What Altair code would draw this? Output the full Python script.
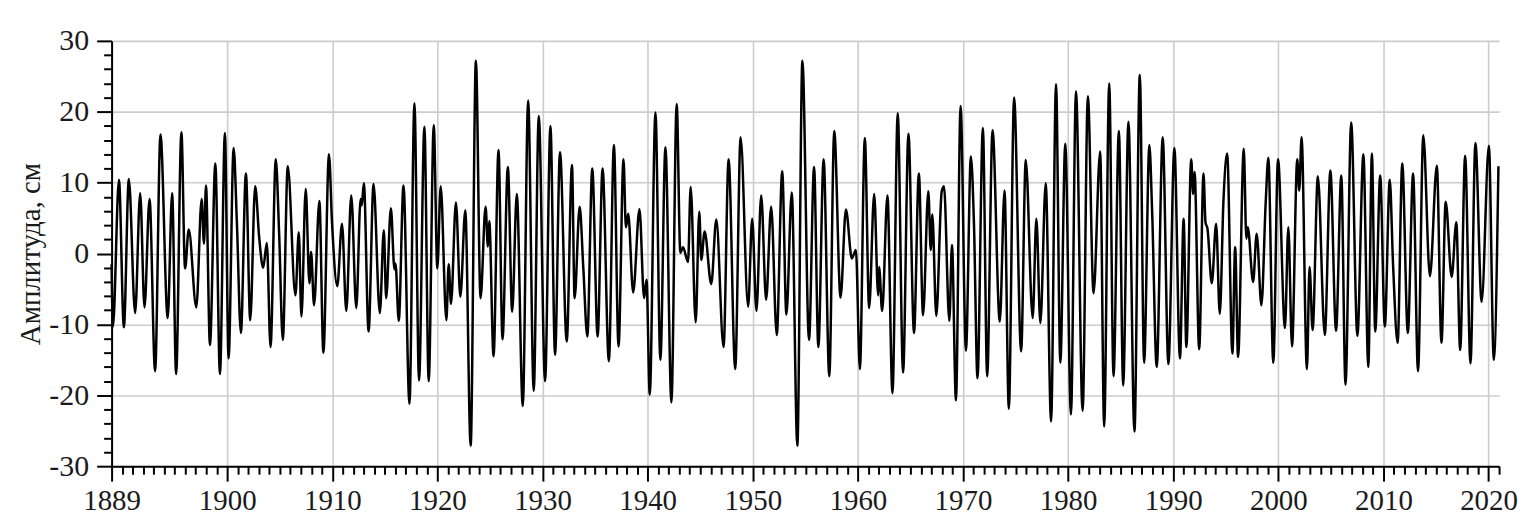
import altair as alt
import pandas as pd

years = [
    1889.0, 1889.13, 1889.70, 1890.17, 1890.64, 1891.24, 1891.72, 1892.13, 1892.61, 1893.14,
    1893.65, 1894.34, 1894.76, 1895.14, 1895.64, 1895.99, 1896.34, 1897.06, 1897.57, 1897.79,
    1897.98, 1898.36, 1898.87, 1899.31, 1899.78, 1900.13, 1900.61, 1900.92, 1901.30, 1901.78,
    1902.19, 1902.66, 1903.04, 1903.42, 1903.77, 1904.12, 1904.62, 1904.94, 1905.29, 1905.76,
    1906.49, 1906.81, 1907.06, 1907.47, 1907.82, 1907.98, 1908.26, 1908.77, 1909.15, 1909.68,
    1909.97, 1910.47, 1910.92, 1911.33, 1911.80, 1912.28, 1912.69, 1912.80, 1913.00, 1913.45,
    1913.92, 1914.52, 1914.90, 1915.12, 1915.57, 1915.91, 1916.01, 1916.32, 1916.77, 1917.34,
    1917.81, 1918.25, 1918.76, 1919.17, 1919.65, 1919.99, 1920.31, 1920.85, 1921.07, 1921.29,
    1921.76, 1922.18, 1922.65, 1923.16, 1923.66, 1924.10, 1924.58, 1924.80, 1924.93, 1925.34,
    1925.81, 1926.19, 1926.70, 1927.11, 1927.55, 1928.12, 1928.63, 1929.16, 1929.64, 1930.24,
    1930.75, 1931.19, 1931.66, 1932.30, 1932.80, 1933.05, 1933.53, 1933.88, 1934.26, 1934.73,
    1935.24, 1935.71, 1936.31, 1936.79, 1937.23, 1937.70, 1937.93, 1938.15, 1938.62, 1939.22,
    1939.66, 1939.89, 1940.20, 1940.74, 1941.21, 1941.69, 1942.26, 1942.76, 1943.11, 1943.36,
    1943.84, 1944.09, 1944.57, 1944.91, 1945.10, 1945.42, 1946.05, 1946.53, 1947.22, 1947.70,
    1948.33, 1948.84, 1949.56, 1949.94, 1950.35, 1950.80, 1951.27, 1951.75, 1952.28, 1952.80,
    1953.20, 1953.71, 1954.24, 1954.72, 1955.35, 1955.83, 1956.24, 1956.74, 1957.28, 1957.75,
    1958.35, 1958.86, 1959.43, 1959.81, 1960.19, 1960.66, 1961.07, 1961.55, 1961.93, 1962.02,
    1962.31, 1962.81, 1963.29, 1963.79, 1964.30, 1964.81, 1965.34, 1965.80, 1966.20, 1966.70,
    1966.93, 1967.08, 1967.46, 1967.97, 1968.19, 1968.70, 1968.95, 1969.33, 1969.77, 1970.28,
    1970.75, 1971.04, 1971.38, 1971.89, 1972.30, 1972.81, 1973.50, 1973.95, 1974.36, 1974.86,
    1975.53, 1975.97, 1976.63, 1976.98, 1977.36, 1977.87, 1978.38, 1978.85, 1979.26, 1979.73,
    1980.27, 1980.75, 1981.38, 1981.88, 1982.42, 1983.05, 1983.43, 1983.91, 1984.32, 1984.83,
    1985.24, 1985.74, 1986.31, 1986.82, 1987.23, 1987.73, 1987.99, 1988.43, 1989.00, 1989.54,
    1990.11, 1990.64, 1990.99, 1991.25, 1991.71, 1991.90, 1992.03, 1992.47, 1992.88, 1993.07,
    1993.26, 1993.67, 1994.08, 1994.43, 1994.78, 1995.13, 1995.63, 1995.89, 1996.17, 1996.71,
    1996.96, 1997.09, 1997.60, 1997.94, 1998.39, 1998.80, 1999.05, 1999.52, 1999.97, 2000.63,
    2000.95, 2001.30, 2001.80, 2001.99, 2002.21, 2002.72, 2002.97, 2003.26, 2003.76, 2004.42,
    2004.95, 2005.49, 2005.99, 2006.39, 2006.93, 2007.52, 2008.09, 2008.56, 2008.90, 2009.22,
    2009.69, 2010.13, 2010.60, 2010.91, 2011.35, 2011.79, 2012.32, 2012.82, 2013.29, 2013.79,
    2014.42, 2015.08, 2015.52, 2015.92, 2016.49, 2016.93, 2017.30, 2017.77, 2018.28, 2018.75,
    2019.34, 2020.03, 2020.50, 2020.94,
]

amplitude = [
    -1.5, -10.3, 10.4, -10.4, 10.5, -8.4, 8.5, -7.6, 7.7, -16.6,
    16.8, -9.1, 8.5, -17.0, 17.1, -2.1, 3.4, -7.6, 7.7, 1.4,
    9.6, -12.9, 12.7, -17.0, 17.0, -14.8, 14.9, 4.4, -11.2, 11.3,
    -9.4, 9.5, 2.3, -2.0, 1.5, -13.2, 13.3, 2.8, -12.2, 12.3,
    -5.9, 3.0, -8.9, 9.1, -4.2, 0.2, -7.3, 7.4, -14.0, 14.0,
    4.4, -4.6, 4.2, -8.1, 8.2, -7.7, 7.7, 6.8, 9.9, -11.0,
    9.8, -8.4, 3.3, -6.3, 6.4, -2.2, -1.4, -9.5, 9.6, -21.2,
    21.2, -17.9, 17.9, -18.0, 18.1, -2.1, 9.5, -9.4, -1.5, -7.1,
    7.2, -6.1, 6.1, -27.1, 27.2, -6.3, 6.6, 1.0, 4.6, -14.5,
    14.6, -12.1, 12.2, -8.2, 8.4, -21.5, 21.6, -19.4, 19.4, -18.0,
    18.0, -14.3, 14.3, -12.4, 12.5, -6.3, 6.6, -2.1, -11.7, 12.0,
    -11.7, 12.0, -15.2, 15.3, -13.1, 13.3, 3.7, 5.6, -5.5, 6.3,
    -6.3, -3.7, -19.9, 19.9, -15.0, 15.0, -21.0, 21.1, 0.1, 0.9,
    -1.2, 9.4, -9.7, 5.9, -0.9, 3.1, -4.3, 4.8, -13.2, 13.3,
    -16.3, 16.4, -7.5, 4.9, -8.1, 8.2, -6.5, 6.6, -11.5, 11.6,
    -8.6, 8.6, -27.1, 27.2, -12.2, 12.2, -13.2, 13.3, -17.3, 17.3,
    -6.2, 6.2, -0.7, 0.5, -16.3, 16.3, -7.7, 8.4, -5.9, -1.9,
    -8.1, 8.2, -19.7, 19.8, -16.8, 16.9, -11.2, 11.3, -8.7, 8.8,
    0.5, 5.5, -8.8, 8.7, 9.5, -9.5, 1.2, -20.7, 20.8, -13.7,
    13.7, 4.4, -17.6, 17.7, -17.3, 17.4, -9.6, 8.9, -21.9, 22.0,
    -13.8, 13.2, -9.1, 4.9, -9.8, 9.9, -23.7, 23.9, -15.4, 15.5,
    -22.7, 22.9, -22.2, 22.2, -5.6, 14.4, -24.4, 24.0, -17.3, 17.3,
    -18.6, 18.6, -25.1, 25.2, -15.4, 15.3, 6.1, -16.0, 16.4, -15.6,
    14.9, -14.8, 4.9, -13.2, 13.3, 8.4, 11.5, -13.5, 11.3, 4.4,
    3.5, -4.2, 4.2, -8.5, 7.5, 14.1, -14.1, 0.9, -14.6, 14.8,
    2.1, 3.7, -4.0, 2.8, -7.3, 7.3, 13.5, -15.4, 13.3, -10.5,
    3.7, -13.1, 13.3, 8.9, 16.4, -16.3, -1.9, -10.8, 10.9, -11.5,
    11.7, -10.9, 11.0, -18.5, 18.5, -11.6, 14.0, -16.0, 14.1, -11.0,
    11.0, -10.3, 10.4, -1.4, -12.6, 12.7, -11.2, 11.3, -16.6, 16.7,
    -3.2, 12.4, -12.6, 7.3, -3.3, 4.4, -13.6, 13.8, -15.5, 15.6,
    -6.8, 15.2, -15.0, 12.3,
]

x_tick_values = list(range(1889, 2022))
y_tick_values = list(range(-30, 31, 2))
x_major = "datum.value === 1889 || (datum.value >= 1900 && datum.value % 10 === 0)"
y_major = "datum.value % 10 === 0"

df = pd.DataFrame({"year": years, "amp": amplitude})

FONT = "Liberation Serif"
TXT = "#1a1a1a"

chart = (
    alt.Chart(df)
    .mark_line(color="black", strokeWidth=2.5, interpolate="monotone")
    .encode(
        x=alt.X(
            "year:Q",
            scale=alt.Scale(domain=[1889, 2021], nice=False, zero=False),
            axis=alt.Axis(
                values=x_tick_values,
                format="d",
                labelExpr=f"({x_major}) ? ('' + datum.value) : ''",
                labelOverlap=False,
                labelFlush=False,
                title=None,
                tickSize=alt.condition(x_major, alt.value(15), alt.value(8)),
                tickWidth=2,
                tickColor="black",
                gridOpacity=alt.condition(x_major, alt.value(1), alt.value(0)),
                gridColor="#cccccc",
                gridWidth=1.6,
                domainColor="black",
                domainWidth=2,
                labelFont=FONT,
                labelFontSize=29,
                labelColor=TXT,
                labelPadding=5,
            ),
        ),
        y=alt.Y(
            "amp:Q",
            scale=alt.Scale(domain=[-30, 30], nice=False),
            axis=alt.Axis(
                values=y_tick_values,
                labelExpr=f"({y_major}) ? ('' + datum.value) : ''",
                labelOverlap=False,
                labelFlush=False,
                title="Амплитуда, см",
                titleFont=FONT,
                titleFontSize=29,
                titleFontWeight="normal",
                titleColor=TXT,
                titlePadding=3,
                tickSize=alt.condition(y_major, alt.value(15), alt.value(8)),
                tickWidth=2,
                tickColor="black",
                gridOpacity=alt.condition(y_major, alt.value(1), alt.value(0)),
                gridColor="#cccccc",
                gridWidth=1.6,
                domainColor="black",
                domainWidth=2,
                labelFont=FONT,
                labelFontSize=30,
                labelColor=TXT,
                labelPadding=8,
            ),
        ),
    )
    .properties(
        width=1393,
        height=427,
        autosize=alt.AutoSizeParams(type="none"),
        padding={"left": 104, "top": 32, "right": 19, "bottom": 50},
    )
    .configure_view(stroke=None)
)

chart.save("out.html", embed_options={"renderer": "svg", "actions": False})
